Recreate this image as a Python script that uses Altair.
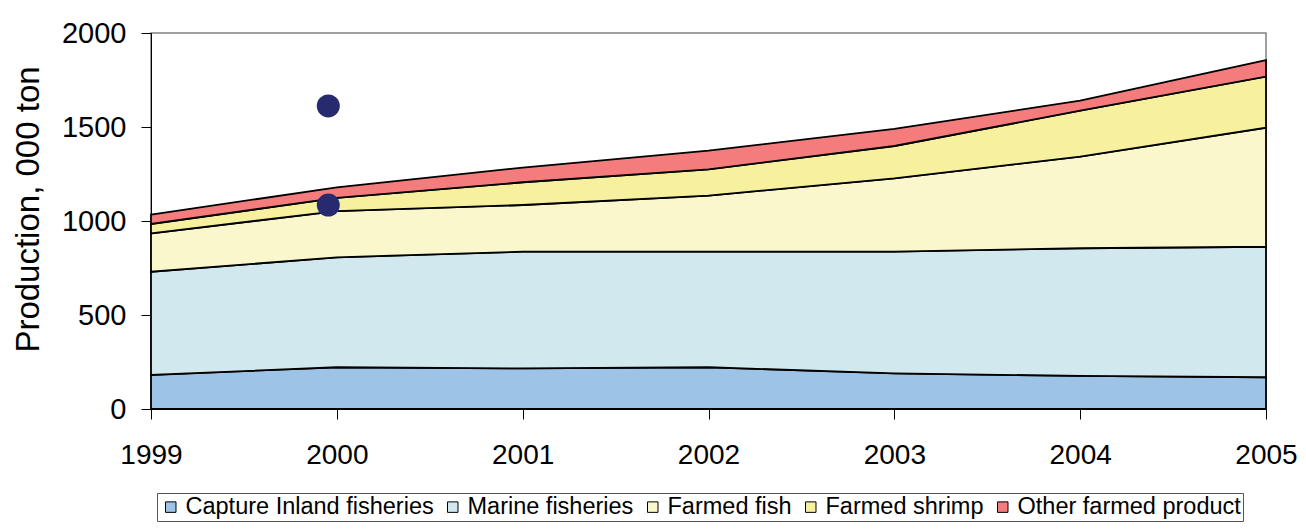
import altair as alt
import pandas as pd

years = [1999, 2000, 2001, 2002, 2003, 2004, 2005]
series = ["Capture Inland fisheries", "Marine fisheries", "Farmed fish", "Farmed shrimp", "Other farmed product"]
capture = [181, 222, 216, 222, 190, 176, 169]
marine = [549, 585, 621, 615, 647, 679, 694]
farmed_fish = [204, 246, 248, 298, 390, 487, 633]
farmed_shrimp = [50, 70, 121, 140, 172, 245, 272]
other = [50, 56, 78, 99, 91, 53, 88]
colors = ["#9DC3E6", "#D1E9EE", "#FAF7CC", "#F6F09F", "#F47C7C"]

dot_x = [1999.954, 1999.954]
dot_y = [1612, 1085]

rows = []
for i, (name, vals) in enumerate(zip(series, [capture, marine, farmed_fish, farmed_shrimp, other])):
    for y, v in zip(years, vals):
        rows.append({"Year": y, "Series": name, "Value": v, "Order": i})
df = pd.DataFrame(rows)
dots = pd.DataFrame({"Year": dot_x, "Value": dot_y})

FONT = "Liberation Sans"

x_enc = alt.X("Year:Q", scale=alt.Scale(domain=[1999, 2005], nice=False, zero=False),
              axis=alt.Axis(values=years, format="d", title=None, grid=False,
                            labelFontSize=28, labelColor="black", labelFont=FONT,
                            domainColor="black", tickColor="black", tickSize=10,
                            labelPadding=22, labelFlush=False))
y_enc = alt.Y("Value:Q", stack="zero", scale=alt.Scale(domain=[0, 2000], nice=False),
              axis=alt.Axis(values=[0, 500, 1000, 1500, 2000], format="d",
                            title="Production, 000 ton",
                            grid=False, labelFontSize=29, labelColor="black", labelFont=FONT,
                            titleFont=FONT, titleFontSize=33, titleFontWeight="normal",
                            titleColor="black", titleX=-106, titleY=176,
                            domainColor="black", tickColor="black", tickSize=10,
                            labelPadding=15))

area = alt.Chart(df).mark_area(stroke="black", strokeWidth=1.8, opacity=1).encode(
    x=x_enc,
    y=y_enc,
    color=alt.Color("Series:N", scale=alt.Scale(domain=series, range=colors),
                    legend=alt.Legend(title=None, orient="none", legendX=6, legendY=460,
                                      direction="horizontal", columns=5,
                                      symbolType="square", symbolSize=110,
                                      symbolStrokeColor="black", symbolStrokeWidth=1,
                                      symbolOpacity=1,
                                      labelFontSize=23.5, labelFont=FONT, labelColor="black",
                                      labelOffset=3, columnPadding=7,
                                      strokeColor="#555555", padding=2,
                                      labelLimit=400)),
    order=alt.Order("Order:Q", sort="ascending"),
)

pts = alt.Chart(dots).mark_circle(size=530, color="#272A6E", opacity=1).encode(
    x=alt.X("Year:Q"),
    y=alt.Y("Value:Q"),
)

chart = alt.layer(area, pts).properties(
    width=1115, height=376,
    autosize=alt.AutoSizeParams(type="none"),
    padding={"left": 143, "top": 25, "right": 32, "bottom": 113},
).configure_view(stroke="#808080", strokeWidth=1.5)

chart.save("out.html", embed_options={"renderer": "svg", "actions": False})
